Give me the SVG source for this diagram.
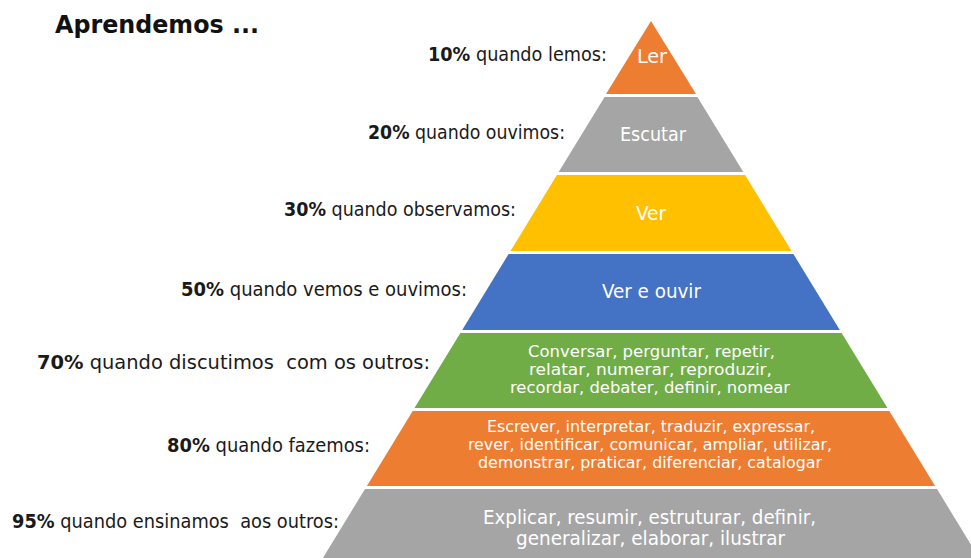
<svg xmlns="http://www.w3.org/2000/svg" width="971" height="558" viewBox="0 0 971 558">
<style>
  .lbl { font-family: "DejaVu Sans", "Liberation Sans", sans-serif; font-stretch: condensed; font-size: 19px; fill: #1a1a1a; }
  .lbl .b { font-weight: bold; }
  .in { font-family: "DejaVu Sans", "Liberation Sans", sans-serif; font-stretch: condensed; fill: #ffffff; text-anchor: middle; }
  .big { font-size: 19px; }
  .small { font-size: 16.5px; }
  .title { font-family: "DejaVu Sans", "Liberation Sans", sans-serif; font-stretch: condensed; font-weight: bold; font-size: 25px; fill: #111111; }
  .orange { fill: #ED7D31; }
  .gray { fill: #A5A5A5; }
  .yellow { fill: #FFC000; }
  .blue { fill: #4472C4; }
  .green { fill: #70AD47; }
</style>
<rect width="971" height="558" fill="#ffffff"/>
<g id="title">
  <text class="title" x="55" y="33" textLength="204" lengthAdjust="spacingAndGlyphs">Aprendemos ...</text>
</g>
<g id="layer-ler">
  <polygon class="orange" points="651,21 696,94 606,94"/>
  <text class="in big" x="652" y="63" textLength="30" lengthAdjust="spacingAndGlyphs">Ler</text>
  <text class="lbl" x="428" y="61" textLength="179" lengthAdjust="spacingAndGlyphs"><tspan class="b">10%</tspan> quando lemos:</text>
</g>
<g id="layer-escutar">
  <polygon class="gray" points="604.6,97 697.4,97 743.3,172 558.7,172"/>
  <text class="in big" x="653" y="141" textLength="66" lengthAdjust="spacingAndGlyphs">Escutar</text>
  <text class="lbl" x="368" y="139" textLength="197" lengthAdjust="spacingAndGlyphs"><tspan class="b">20%</tspan> quando ouvimos:</text>
</g>
<g id="layer-ver">
  <polygon class="yellow" points="556.9,175 745.1,175 791.5,251 510.5,251"/>
  <text class="in big" x="651" y="220" textLength="30" lengthAdjust="spacingAndGlyphs">Ver</text>
  <text class="lbl" x="284" y="216" textLength="232" lengthAdjust="spacingAndGlyphs"><tspan class="b">30%</tspan> quando observamos:</text>
</g>
<g id="layer-ver-ouvir">
  <polygon class="blue" points="508.6,254 793.4,254 839.8,330 462.2,330"/>
  <text class="in big" x="651.5" y="298" textLength="99" lengthAdjust="spacingAndGlyphs">Ver e ouvir</text>
  <text class="lbl" x="181" y="296" textLength="286" lengthAdjust="spacingAndGlyphs"><tspan class="b">50%</tspan> quando vemos e ouvimos:</text>
</g>
<g id="layer-discutir">
  <polygon class="green" points="460.4,333 841.6,333 887.5,408 414.5,408"/>
  <text class="in small" x="651.5" y="357" textLength="247" lengthAdjust="spacingAndGlyphs">Conversar, perguntar, repetir,</text>
  <text class="in small" x="650.5" y="375" textLength="243" lengthAdjust="spacingAndGlyphs">relatar, numerar, reproduzir,</text>
  <text class="in small" x="650" y="393" textLength="280" lengthAdjust="spacingAndGlyphs">recordar, debater, definir, nomear</text>
  <text class="lbl" x="37" y="369" textLength="393" lengthAdjust="spacingAndGlyphs" xml:space="preserve"><tspan class="b">70%</tspan> quando discutimos  com os outros:</text>
</g>
<g id="layer-fazer">
  <polygon class="orange" points="412.7,411 889.3,411 935.1,486 366.9,486"/>
  <text class="in small" x="651" y="432" textLength="328" lengthAdjust="spacingAndGlyphs">Escrever, interpretar, traduzir, expressar,</text>
  <text class="in small" x="650" y="450" textLength="364" lengthAdjust="spacingAndGlyphs">rever, identificar, comunicar, ampliar, utilizar,</text>
  <text class="in small" x="650" y="468" textLength="344" lengthAdjust="spacingAndGlyphs">demonstrar, praticar, diferenciar, catalogar</text>
  <text class="lbl" x="167" y="452" textLength="203" lengthAdjust="spacingAndGlyphs"><tspan class="b">80%</tspan> quando fazemos:</text>
</g>
<g id="layer-ensinar">
  <polygon class="gray" points="365,489 937,489 979.1,558 322.9,558"/>
  <text class="in big" x="649.5" y="524" textLength="333" lengthAdjust="spacingAndGlyphs">Explicar, resumir, estruturar, definir,</text>
  <text class="in big" x="650.5" y="545" textLength="269" lengthAdjust="spacingAndGlyphs">generalizar, elaborar, ilustrar</text>
  <text class="lbl" x="12" y="528" textLength="327" lengthAdjust="spacingAndGlyphs" xml:space="preserve"><tspan class="b">95%</tspan> quando ensinamos  aos outros:</text>
</g>
<g id="connectors"/>
</svg>
